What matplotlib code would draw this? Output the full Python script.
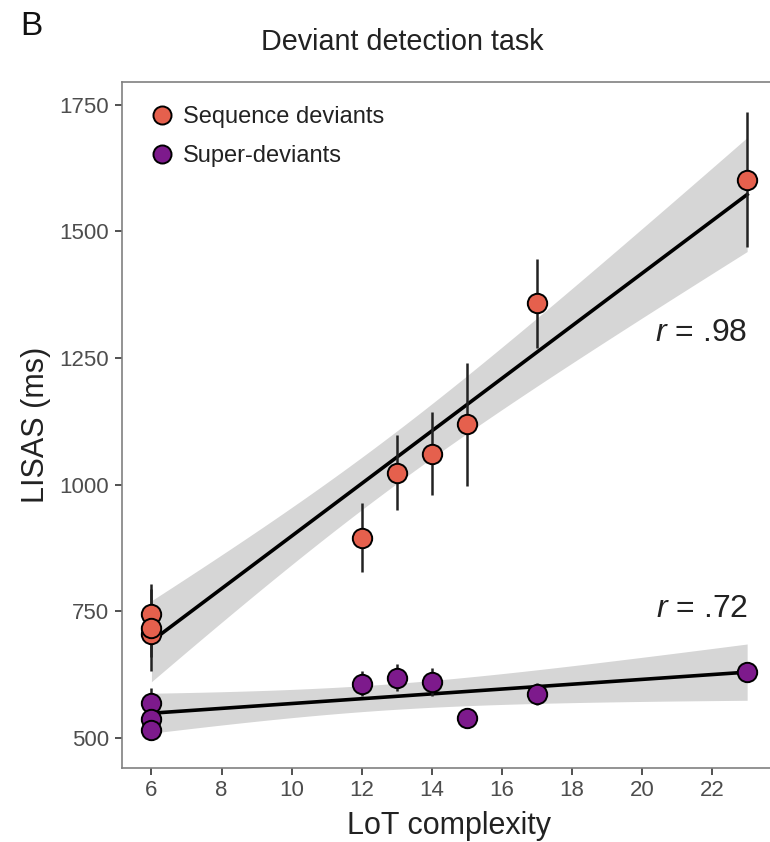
import numpy as np
import matplotlib
matplotlib.use("Agg")
import matplotlib.pyplot as plt
from matplotlib.lines import Line2D

plt.rcParams['font.family'] = ['Liberation Sans', 'DejaVu Sans']
plt.rcParams['mathtext.fontset'] = 'custom'
plt.rcParams['mathtext.it'] = 'Liberation Sans:italic'
plt.rcParams['mathtext.rm'] = 'Liberation Sans'

# LoT complexity de cada secuencia
complejidad = [6, 6, 6, 12, 13, 14, 15, 17, 23]

# Sequence deviants (media y error)
seq_media = [745, 705, 718, 895, 1024, 1061, 1119, 1358, 1602]
seq_error = [50, 45, 86, 68, 74, 82, 122, 88, 133]

# Super-deviants (media y error)
sup_media = [569, 538, 516, 607, 619, 611, 540, 587, 630]
sup_error = [30, 22, 20, 25, 27, 28, 5, 22, 10]

etiquetas_r = ["$r$ = .98", "$r$ = .72"]

color_seq = "#E5604D"
color_sup = "#7D1A8C"
T_CRIT = 2.365  # t de Student, gl = 7, 95%


def ajuste_lineal(x, y, xs):
    x = np.asarray(x, float)
    y = np.asarray(y, float)
    b, a = np.polyfit(x, y, 1)
    pred = a + b * x
    s = np.sqrt(np.sum((y - pred) ** 2) / (len(x) - 2))
    sxx = np.sum((x - x.mean()) ** 2)
    yfit = a + b * xs
    se = s * np.sqrt(1 / len(x) + (xs - x.mean()) ** 2 / sxx)
    return yfit, yfit - T_CRIT * se, yfit + T_CRIT * se


fig = plt.figure(figsize=(7.7, 8.42), dpi=100)
ax = fig.add_axes([0.158, 0.088, 0.851, 0.8148])

xs = np.linspace(min(complejidad), max(complejidad), 100)
for media in (seq_media, sup_media):
    yfit, lo, hi = ajuste_lineal(complejidad, media, xs)
    ax.fill_between(xs, lo, hi, color="#D6D6D6", lw=0, zorder=1)
    ax.plot(xs, yfit, color="black", lw=2.6, zorder=2)

for media, err, col in ((seq_media, seq_error, color_seq), (sup_media, sup_error, color_sup)):
    ax.errorbar(complejidad, media, yerr=err, fmt="none", ecolor="#222222", elinewidth=1.8, zorder=3)
    ax.scatter(complejidad, media, s=195, color=col, edgecolor="black", linewidth=1.4, zorder=4)

ax.text(23, 1299, etiquetas_r[0], ha="right", va="center", fontsize=23, color="#222222")
ax.text(23, 755, etiquetas_r[1], ha="right", va="center", fontsize=23, color="#222222")

ax.set_xlim(5.15, 23.85)
ax.set_ylim(441, 1795)
ax.set_xticks(np.arange(6, 24, 2))
ax.set_yticks([500, 750, 1000, 1250, 1500, 1750])
ax.tick_params(labelsize=16, labelcolor="#4D4D4D", color="#333333", length=5, width=1.2, pad=4)
for sp in ax.spines.values():
    sp.set_color("#808080")
    sp.set_linewidth(1.2)

ax.set_xlabel("LoT complexity", fontsize=22, color="#222222", labelpad=7)
ax.set_ylabel("LISAS (ms)", fontsize=22, color="#222222", labelpad=6)

handles = [
    Line2D([], [], marker="o", ls="", markersize=13, markerfacecolor=color_seq, markeredgecolor="black", markeredgewidth=1.4),
    Line2D([], [], marker="o", ls="", markersize=13, markerfacecolor=color_sup, markeredgecolor="black", markeredgewidth=1.4),
]
ax.legend(handles, ["Sequence deviants", "Super-deviants"], loc="upper left", frameon=False,
          fontsize=17, handlelength=1.0, handletextpad=0.39, labelspacing=0.72, borderaxespad=0,
          bbox_to_anchor=(0.029, 0.978), labelcolor="#222222")

fig.text(0.523, 0.950, "Deviant detection task", ha="center", va="center", fontsize=20.7, color="#222222")
fig.text(0.026, 0.969, "B", ha="left", va="center", fontsize=24, color="#111111")

fig.savefig("out.png", dpi=100)
